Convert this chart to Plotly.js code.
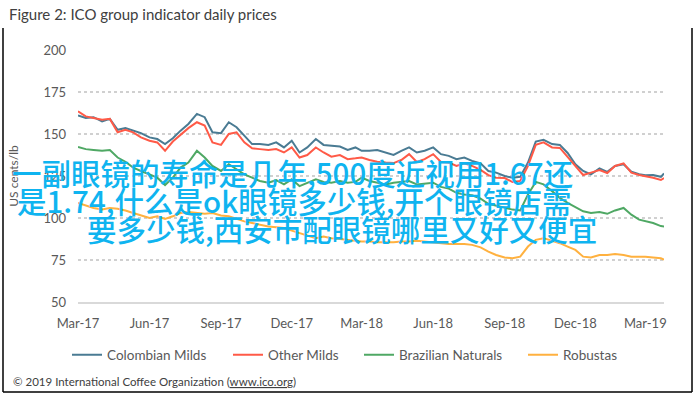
<!DOCTYPE html>
<html>
<head>
<meta charset="utf-8">
<script src="https://cdn.plot.ly/plotly-3.0.1.min.js"></script>
<style>html,body{margin:0;padding:0;background:#fff;}#chart{width:695px;height:394px;}</style>
</head>
<body>
<div id="chart"></div>
<script>
const dates = [
"2017-03-01","2017-03-11","2017-03-21","2017-04-01","2017-04-11","2017-04-21","2017-05-01","2017-05-11","2017-05-21",
"2017-06-01","2017-06-11","2017-06-21","2017-07-01","2017-07-11","2017-07-21","2017-08-01","2017-08-11","2017-08-21",
"2017-09-01","2017-09-11","2017-09-21","2017-10-01","2017-10-11","2017-10-21","2017-11-01","2017-11-11","2017-11-21",
"2017-12-01","2017-12-11","2017-12-21","2018-01-01","2018-01-11","2018-01-21","2018-02-01","2018-02-11","2018-02-21",
"2018-03-01","2018-03-11","2018-03-21","2018-04-01","2018-04-11","2018-04-21","2018-05-01","2018-05-11","2018-05-21",
"2018-06-01","2018-06-11","2018-06-21","2018-07-01","2018-07-11","2018-07-21","2018-08-01","2018-08-11","2018-08-21",
"2018-09-01","2018-09-11","2018-09-21","2018-10-01","2018-10-11","2018-10-21","2018-11-01","2018-11-11","2018-11-21",
"2018-12-01","2018-12-11","2018-12-21","2019-01-01","2019-01-11","2019-01-21","2019-02-01","2019-02-11","2019-02-21",
"2019-03-01","2019-03-11","2019-03-21","2019-03-25"];

const colombianMilds = [
161,159.5,160,157.5,159,152.5,153.5,152,150.5,
148,147,144,147.5,152,156,162,160,151,
150.5,157,154,149,144,144,143.5,145,142,
146,139,142,147,143.5,143,142.5,140.5,142,
140,140,140.5,138.7,137.5,140,142,139,140,
142,138,137,135,136,134,132.5,128,127,
125,124,124.5,133,145.5,146.5,144,143.5,138.7,
132,128,126,129.5,127.5,131,132,127.5,126,
125.5,125.6,124.5,126.5];

const otherMilds = [
163.5,160.5,159.5,158.5,159,151,152.5,151,148,
146,145,140,145.5,149.5,153.5,157,155,145,
143.5,150,151,145,141.5,141,140.5,141,139,
142,136,137.5,142,139,136.5,137.5,135,135.5,
136,134.5,133.5,133,132.7,134.5,138,133.3,135,
138,133.3,133,131,132.5,131,128.6,125.5,124,
123.8,121.4,122,131,143.5,145,142,141.7,136.3,
131,125.6,127,128.6,126.8,131,132.5,127,125.6,
125,124,122.6,123.8];

const brazilianNaturals = [
142.3,141,140.5,140,140.5,136,133.5,130,128,
126,124,119.6,124,130,133,140,136,131,
128,132,129,126,124,122,121,122.5,120,
123,119,121,123,121.5,121,122,121,121.5,
124,122,121,120,121,121.5,122,120,120.5,
121,118.5,117.5,115,114,113.5,111.5,108.5,107.5,
106,105,104.5,114,121.5,120,116,112,109,
106.5,104,103,103.5,102.5,104.5,106,102,99,
98,97,95.2,95];

const robustas = [
109,107.5,106,105,106,105.5,104.5,103,101.5,
100,101,99.5,101,103,103.5,103,102.5,103,
101.5,101,99.5,98,97,96,95,94.5,94,
92.5,91,89.5,88,89,88,87.5,87,86.5,
86,86,85.5,85.5,85.5,86,86,86.5,86,
85.5,85,84.5,84.5,84.5,84,82.5,80,78,
76.5,76,77,83,87,88,86.5,85,83,
81,77,76.5,78,78,78.5,78,77,77,
77,76.5,76,75.2];

const seriesNames = ["Colombian Milds","Other Milds","Brazilian Naturals","Robustas"];
const seriesColors = ["#4a7b93","#ff5a47","#4fa864","#ffb13f"];
const tickVals = ["2017-03-01","2017-06-01","2017-09-01","2017-12-01","2018-03-01","2018-06-01","2018-09-01","2018-12-01","2019-03-01"];
const tickText = ["Mar-17","Jun-17","Sep-17","Dec-17","Mar-18","Jun-18","Sep-18","Dec-18","Mar-19"];
const overlayLines = [
"一副眼镜的寿命是几年,500度近视用1.67还",
"是1.74,什么是ok眼镜多少钱,开个眼镜店需",
"要多少钱,西安市配眼镜哪里又好又便宜"];

// plot area in px: x 78..664, y 50..302
const L = 78, R = 664, T = 50, B = 302;
const px = v => (v - L) / (R - L);
const py = v => (B - v) / (B - T);

const legendIds = ["legend","legend2","legend3","legend4"];
const legendLeft = [67, 228, 359, 523];

const ys = [colombianMilds, otherMilds, brazilianNaturals, robustas];
const traces = ys.map((y, i) => ({
  x: dates, y: y, type: "scatter", mode: "lines", name: seriesNames[i],
  line: {color: seriesColors[i], width: 2}, legend: legendIds[i]
}));

const font = "Lato, 'Open Sans', sans-serif";
const cjk = "'Noto Sans CJK SC', sans-serif";
const layout = {
  width: 695, height: 394,
  margin: {l: L, r: 695 - R, t: T, b: 394 - B},
  paper_bgcolor: "#ffffff", plot_bgcolor: "#ffffff",
  font: {family: font, color: "#595959", size: 12},
  showlegend: true,
  xaxis: {type: "date", range: ["2017-03-01", "2019-03-25"], tickvals: tickVals, ticktext: tickText,
          showgrid: false, zeroline: false, showline: true, linecolor: "#d9d9d9", linewidth: 1.5,
          ticks: "", ticklabelstandoff: 9, tickfont: {size: 13, color: "#595959"}},
  yaxis: {range: [50, 200], tickvals: [50,75,100,125,150,175,200], showgrid: true, gridcolor: "#d0d0d0",
          griddash: "dot", gridwidth: 1.2, zeroline: false, showline: false, ticks: "", ticklabelstandoff: 11,
          tickfont: {size: 13, color: "#595959"},
          title: {text: "US cents/lb", font: {size: 12, color: "#595959"}, standoff: 22}},
  annotations: [
    {xref: "paper", yref: "paper", x: px(7), y: py(14), xanchor: "left", yanchor: "middle", showarrow: false,
     text: "Figure 2: ICO group indicator daily prices", font: {family: font, size: 15, color: "#404040"}},
    {xref: "paper", yref: "paper", x: px(11), y: py(381), xanchor: "left", yanchor: "middle", showarrow: false,
     text: "© 2019 International Coffee Organization (<span style=\"text-decoration:underline\">www.ico.org</span>)",
     font: {family: font, size: 11.5, color: "#404040"}},
    {xref: "paper", yref: "paper", x: px(10), y: py(172), xanchor: "left", yanchor: "middle", showarrow: false,
     text: overlayLines[0], font: {family: cjk, size: 29.5, color: "#0fb4f0", weight: 500}},
    {xref: "paper", yref: "paper", x: px(15), y: py(200), xanchor: "left", yanchor: "middle", showarrow: false,
     text: overlayLines[1], font: {family: cjk, size: 29.5, color: "#0fb4f0", weight: 500}},
    {xref: "paper", yref: "paper", x: px(85), y: py(228), xanchor: "left", yanchor: "middle", showarrow: false,
     text: overlayLines[2], font: {family: cjk, size: 29.5, color: "#0fb4f0", weight: 500}}
  ],
  shapes: [
    {type: "line", xref: "paper", yref: "paper", x0: px(3), x1: px(3), y0: py(28), y1: py(392), line: {color: "#000", width: 1.5}},
    {type: "line", xref: "paper", yref: "paper", x0: px(692), x1: px(692), y0: py(28), y1: py(392), line: {color: "#000", width: 1.5}},
    {type: "line", xref: "paper", yref: "paper", x0: px(3), x1: px(692), y0: py(392), y1: py(392), line: {color: "#000", width: 1.5}}
  ]
};
legendIds.forEach((id, i) => {
  layout[id] = {orientation: "h", x: px(legendLeft[i]), xanchor: "left", y: py(355), yanchor: "middle",
                bgcolor: "rgba(0,0,0,0)", borderwidth: 0,
                font: {family: font, size: 13.5, color: "#595959"}};
});

Plotly.newPlot("chart", traces, layout, {displayModeBar: false, staticPlot: true});
</script>
</body>
</html>
